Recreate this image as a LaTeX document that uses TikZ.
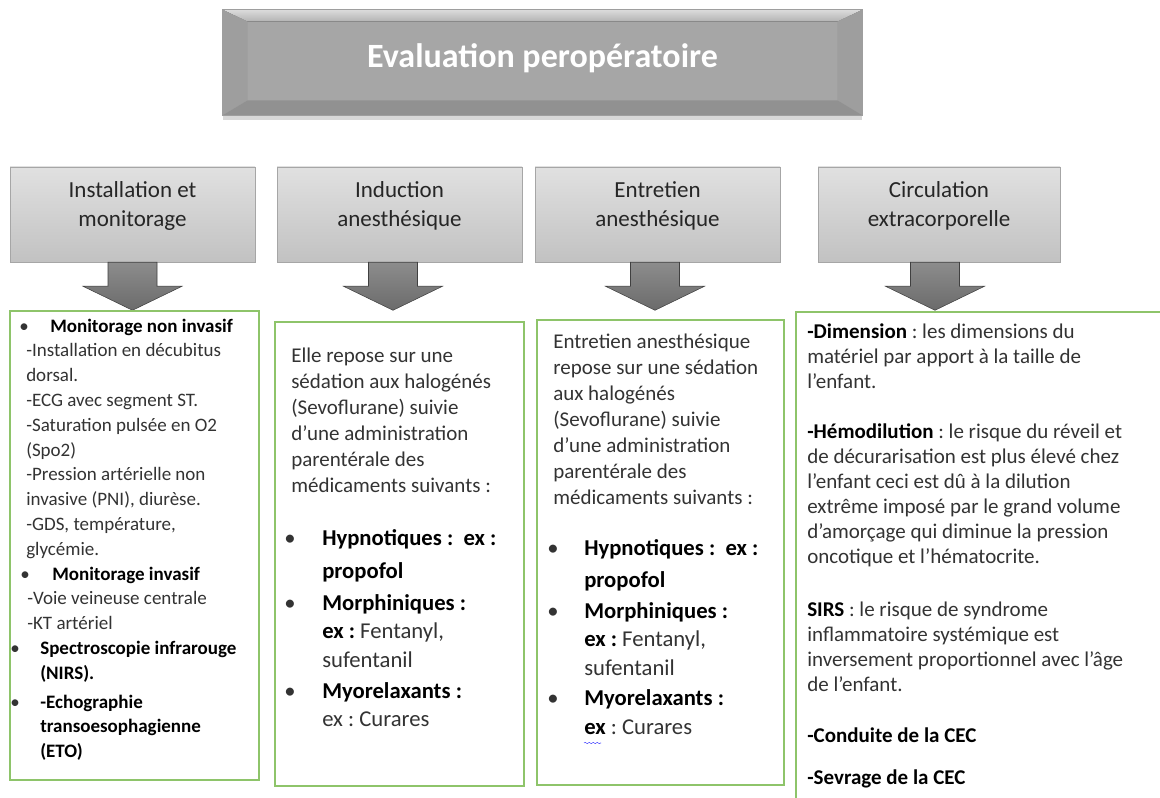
\documentclass[tikz,border=0pt]{standalone}
\usepackage{xcolor}
\usepackage{fontspec}
\setmainfont{Carlito}
\usepackage{tikz}
\usetikzlibrary{
  positioning,
  calc,
  shadows,
  decorations.pathmorphing
}
\definecolor{vertcadre}{RGB}{142,196,106}
\newlength{\px}
\setlength{\px}{0.75pt}
\newcommand{\gras}[1]{\textbf{\textcolor{black}{#1}}}
\frenchspacing

\begin{document}
\begin{tikzpicture}[
        x=0.75pt, y=-0.75pt,
        entete/.style={draw=black!35, top color=black!12, bottom color=black!24,
            minimum width=245\px, minimum height=95\px, align=center, text=black!85,
            font=\fontsize{17.25pt}{21.75pt}\selectfont, text depth=16pt},
        cadre/.style={draw=vertcadre, line width=1.5pt, fill=white},
        texte/.style={anchor=north west, inner sep=0pt, align=left, text=black!80},
        fleche/.style={draw=black!75, top color=black!45, bottom color=black!58},
        pics/flechebas/.style={code={
            \draw[fleche] (-24.5,0) -- (-24.5,24) -- (-49.5,24) -- (0,48)
                -- (49.5,24) -- (24.5,24) -- (24.5,0) -- cycle;
        }}
    ]
        \path[fill=white, use as bounding box] (0,0) rectangle (1160,798);

        % Titre avec relief
        \node[draw=black!38, fill=black!35, minimum width=639\px, minimum height=105\px,
            drop shadow={shadow xshift=0pt, shadow yshift=-4pt, opacity=0.3},
            text=white, font=\fontsize{25.5pt}{30pt}\selectfont\bfseries, text depth=10pt]
            (titre) at (542.5,62.5) {Evaluation peropératoire};
        \fill[top color=black!14, bottom color=black!30] (titre.north west) -- (titre.north east)
            -- ($(titre.north east)+(-25,12)$) -- ($(titre.north west)+(25,12)$) -- cycle;
        \fill[black!38] (titre.north west) -- ($(titre.north west)+(25,12)$)
            -- ($(titre.south west)+(25,-15)$) -- (titre.south west) -- cycle;
        \fill[black!38] (titre.north east) -- ($(titre.north east)+(-25,12)$)
            -- ($(titre.south east)+(-25,-15)$) -- (titre.south east) -- cycle;
        \fill[black!43] (titre.south west) -- ($(titre.south west)+(25,-15)$)
            -- ($(titre.south east)+(-25,-15)$) -- (titre.south east) -- cycle;
        \draw[black!38] (titre.north west) rectangle (titre.south east);

        % Les quatre etapes
        \node[entete] (hInstall) at (132.5,214.5) {Installation et\\monitorage};
        \node[entete] (hInduction) at (399.5,214.5) {Induction\\anesthésique};
        \node[entete] (hEntretien) at (657.5,214.5) {Entretien\\anesthésique};
        \node[entete, minimum width=242\px] (hCEC) at (939,214.5) {Circulation\\extracorporelle};

        % Fleches vers le bas
        \pic at (hInstall.south) {flechebas};
        \pic at ($(hInduction.south)+(-6.5,0)$) {flechebas};
        \pic at ($(hEntretien.south)+(-2.5,0)$) {flechebas};
        \pic at ($(hCEC.south)+(-4,0)$) {flechebas};

        % Cadres verts
        \node[cadre, minimum width=249\px, minimum height=469\px] (bInstall) at (134.5,545.5) {};
        \node[cadre, minimum width=249\px, minimum height=464\px] (bInduction) at (399.5,554) {};
        \node[cadre, minimum width=247\px, minimum height=465\px] (bEntretien) at (660.5,552.5) {};
        \node[cadre, minimum width=374\px, minimum height=500\px] (bCEC) at (983,562) {};

        % Installation et monitorage
        \node[texte, font=\fontsize{14.25pt}{18.6pt}\selectfont] (tInstall) at (10,318.5) {%
            \hspace*{9\px}\makebox[31\px][l]{\textbullet}\gras{Monitorage non invasif}\\
            \hspace*{16\px}-Installation en décubitus\\
            \hspace*{16\px}dorsal.\\
            \hspace*{16\px}-ECG avec segment ST.\\
            \hspace*{16\px}-Saturation pulsée en O2\\
            \hspace*{16\px}(Spo2)\\
            \hspace*{16\px}-Pression artérielle non\\
            \hspace*{16\px}invasive (PNI), diurèse.\\
            \hspace*{16\px}-GDS, température,\\
            \hspace*{16\px}glycémie.\\
            \hspace*{10\px}\makebox[32\px][l]{\textbullet}\gras{Monitorage invasif}\\
            \hspace*{17\px}-Voie veineuse centrale\\
            \hspace*{17\px}-KT artériel\\
            \makebox[30\px][l]{\textbullet}\gras{Spectroscopie infrarouge}\\
            \hspace*{30\px}\gras{(NIRS).}\\[4\px]
            \makebox[30\px][l]{\textbullet}\gras{-Echographie}\\
            \hspace*{30\px}\gras{transoesophagienne}\\
            \hspace*{30\px}\gras{(ETO)}};

        % Induction anesthesique
        \node[texte, font=\fontsize{15.75pt}{19.5pt}\selectfont] (tInduction) at (291,347.5) {%
            Elle repose sur une\\
            sédation aux halogénés\\
            (Sevoflurane) suivie\\
            d’une administration\\
            parentérale des\\
            médicaments suivants :};
        \node[texte, font=\fontsize{17pt}{21.4pt}\selectfont] (lInduction) at (284,529.5) {%
            \makebox[38\px][l]{\textbullet}\gras{Hypnotiques :\ \ ex :}\\[4\px]
            \hspace*{38\px}\gras{propofol}\\[3.5\px]
            \makebox[38\px][l]{\textbullet}\gras{Morphiniques :}\\
            \hspace*{38\px}\gras{ex :} Fentanyl,\\
            \hspace*{38\px}sufentanil\\[2.5\px]
            \makebox[38\px][l]{\textbullet}\gras{Myorelaxants :}\\
            \hspace*{38\px}ex : Curares};

        % Entretien anesthesique
        \node[texte, font=\fontsize{15.75pt}{19.5pt}\selectfont] (tEntretien) at (553,333.5) {%
            Entretien anesthésique\\
            repose sur une sédation\\
            aux halogénés\\
            (Sevoflurane) suivie\\
            d’une administration\\
            parentérale des\\
            médicaments suivants :};
        \node[texte, font=\fontsize{17pt}{21.4pt}\selectfont] (lEntretien) at (547,539.5) {%
            \makebox[37\px][l]{\textbullet}\gras{Hypnotiques :\ \ ex :}\\[3\px]
            \hspace*{37\px}\gras{propofol}\\[2.5\px]
            \makebox[37\px][l]{\textbullet}\gras{Morphiniques :}\\
            \hspace*{37\px}\gras{ex :} Fentanyl,\\
            \hspace*{37\px}sufentanil\\[2\px]
            \makebox[37\px][l]{\textbullet}\gras{Myorelaxants :}\\
            \hspace*{37\px}\gras{ex} : Curares};
        \draw[blue!70, decorate, decoration={snake, amplitude=0.5pt, segment length=3pt}]
            (584,743) -- (601,743);

        % Circulation extracorporelle
        \node[texte, font=\fontsize{15.75pt}{18.75pt}\selectfont] (tCEC) at (807,323.5) {%
            \gras{-Dimension} : les dimensions du\\
            matériel par apport à la taille de\\
            l’enfant.\\[25\px]
            \gras{-Hémodilution} : le risque du réveil et\\
            de décurarisation est plus élevé chez\\
            l’enfant ceci est dû à la dilution\\
            extrême imposé par le grand volume\\
            d’amorçage qui diminue la pression\\
            oncotique et l’hématocrite.\\[28\px]
            \gras{SIRS} : le risque de syndrome\\
            inflammatoire systémique est\\
            inversement proportionnel avec l’âge\\
            de l’enfant.\\[26\px]
            \gras{-Conduite de la CEC}\\[17\px]
            \gras{-Sevrage de la CEC}};
    \end{tikzpicture}
\end{document}
